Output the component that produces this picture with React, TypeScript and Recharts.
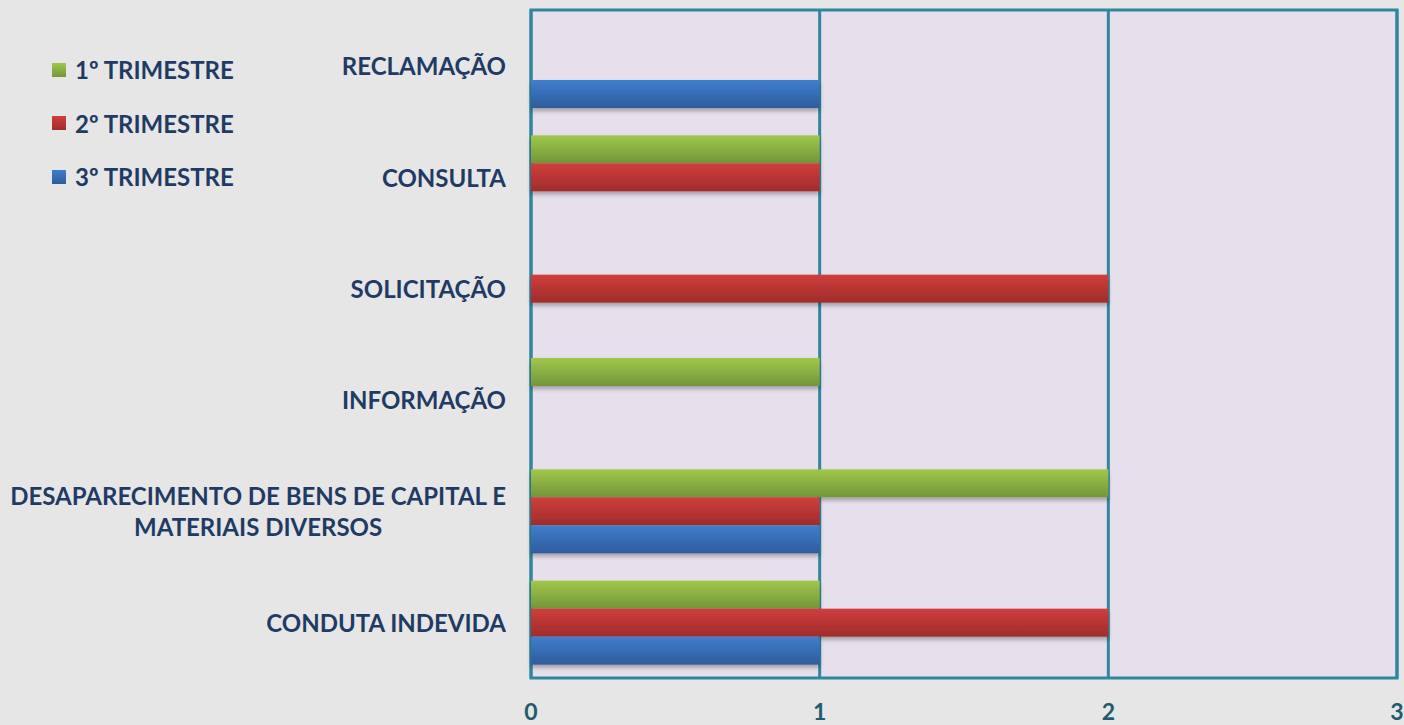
import React from "react";
import {
  BarChart,
  Bar,
  XAxis,
  YAxis,
  CartesianGrid,
  ReferenceArea,
} from "recharts";

const categories = [
  "RECLAMAÇÃO",
  "CONSULTA",
  "SOLICITAÇÃO",
  "INFORMAÇÃO",
  "DESAPARECIMENTO DE BENS DE CAPITAL E|MATERIAIS DIVERSOS",
  "CONDUTA INDEVIDA",
];
const trimestre1 = [0, 1, 0, 1, 2, 1];
const trimestre2 = [0, 1, 2, 0, 1, 2];
const trimestre3 = [1, 0, 0, 0, 1, 1];
const xTicks = [0, 1, 2, 3];

const series = [
  { key: "t1", name: "1º TRIMESTRE", top: "#9ec84b", bottom: "#74953a" },
  { key: "t2", name: "2º TRIMESTRE", top: "#d03e3c", bottom: "#9f2c2b" },
  { key: "t3", name: "3º TRIMESTRE", top: "#3f7ecd", bottom: "#2e5c9b" },
];

const data = categories.map((c, i) => ({
  name: c,
  t1: trimestre1[i],
  t2: trimestre2[i],
  t3: trimestre3[i],
}));

const NAVY = "#1f3b63";
const TEAL = "#31859c";
const FONT = "Lato, 'Open Sans', sans-serif";

function CategoryTick(props: any) {
  const { y, payload } = props;
  const lines = String(payload.value).split("|");
  return (
    <foreignObject x={0} y={y - 40} width={506} height={80}>
      <div
        style={{
          width: 506,
          height: 80,
          display: "flex",
          justifyContent: "flex-end",
          alignItems: "center",
        }}
      >
        <div
          style={{
            textAlign: "center",
            fontFamily: FONT,
            fontWeight: 700,
            fontSize: 24,
            lineHeight: "31px",
            color: NAVY,
            whiteSpace: "nowrap",
          }}
        >
          {lines.map((l, i) => (
            <div key={i}>{l}</div>
          ))}
        </div>
      </div>
    </foreignObject>
  );
}

function ShadowBar(props: any) {
  const { x, y, width, height, fill } = props;
  if (!width || width <= 0) return null;
  return (
    <rect x={x} y={y} width={width} height={height} fill={fill} filter="url(#barShadow)" />
  );
}

function LegendBox() {
  return (
    <div
      style={{
        position: "absolute",
        left: 52,
        top: 43,
        fontFamily: FONT,
        fontWeight: 700,
        fontSize: 24,
        color: NAVY,
      }}
    >
      {series.map((s) => (
        <div
          key={s.key}
          style={{ display: "flex", alignItems: "center", height: 53.5 }}
        >
          <span
            style={{
              display: "inline-block",
              width: 14,
              height: 14,
              background: `linear-gradient(${s.top}, ${s.bottom})`,
              marginRight: 9,
            }}
          />
          <span>{s.name}</span>
        </div>
      ))}
    </div>
  );
}

export default function App() {
  return (
    <div
      style={{
        position: "fixed",
        left: 0,
        top: 0,
        width: 1404,
        height: 725,
        background: "#e6e6e6",
      }}
    >
      <BarChart
        width={1404}
        height={725}
        data={data}
        layout="vertical"
        margin={{ top: 10, right: 7, left: 0, bottom: 0 }}
        barSize={28}
        barGap={0}
      >
        <defs>
          {series.map((s) => (
            <linearGradient key={s.key} id={`g-${s.key}`} x1="0" y1="0" x2="0" y2="1">
              <stop offset="0%" stopColor={s.top} />
              <stop offset="100%" stopColor={s.bottom} />
            </linearGradient>
          ))}
          <filter id="barShadow" x="-5%" y="-20%" width="110%" height="160%">
            <feDropShadow dx="0" dy="3" stdDeviation="2" floodColor="#000" floodOpacity="0.3" />
          </filter>
        </defs>
        <CartesianGrid
          horizontal={false}
          vertical
          stroke={TEAL}
          strokeWidth={3}
          fill="#e6e0ec"
          fillOpacity={1}
        />
        <XAxis
          type="number"
          domain={[0, 3]}
          ticks={xTicks}
          height={47}
          axisLine={false}
          tickLine={false}
          tickMargin={20}
          tick={{ fill: "#1e5c6e", fontFamily: FONT, fontWeight: 700, fontSize: 23 }}
          interval={0}
        />
        <YAxis
          type="category"
          dataKey="name"
          width={531}
          axisLine={false}
          tickLine={false}
          tick={<CategoryTick />}
          interval={0}
        />
        <ReferenceArea x1={0} x2={3} fill="none" stroke={TEAL} strokeWidth={3} fillOpacity={0} />
        {series.map((s) => (
          <Bar
            key={s.key}
            dataKey={s.key}
            name={s.name}
            fill={`url(#g-${s.key})`}
            shape={<ShadowBar />}
            isAnimationActive={false}
          />
        ))}
      </BarChart>
      <LegendBox />
    </div>
  );
}
